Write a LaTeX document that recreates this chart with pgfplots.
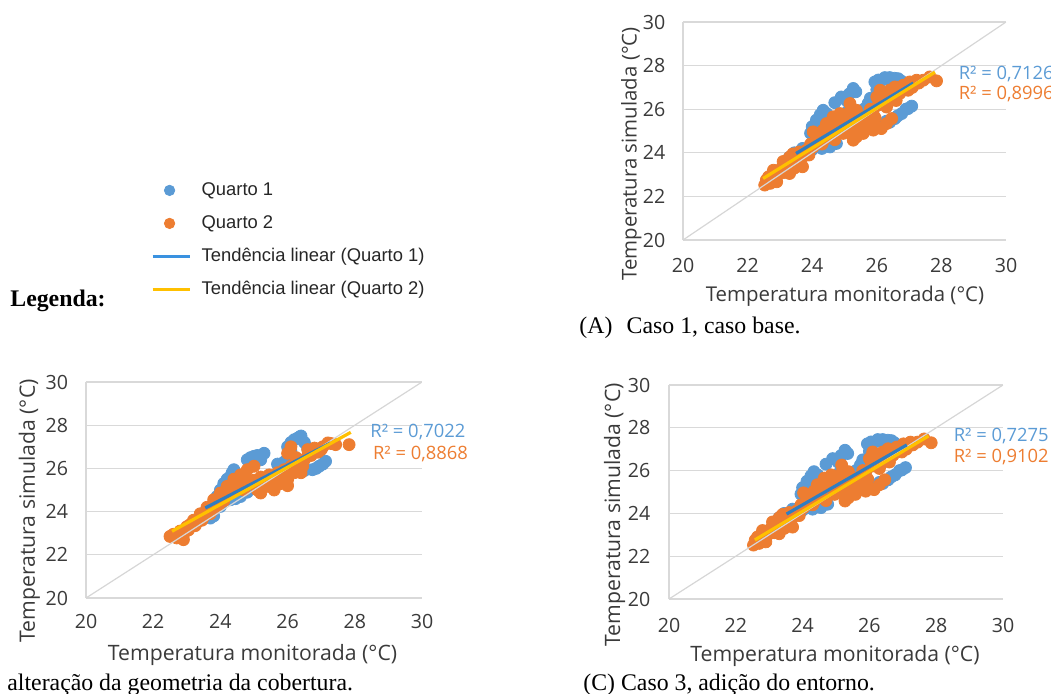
\documentclass[border=0pt]{standalone}
\usepackage{fontspec}
\setmainfont{Liberation Serif}
\newfontfamily\chartfont{Open Sans}
\newfontfamily\legfont{Liberation Sans}
\usepackage{pgfplots}
\usepackage{pgfplotstable}
\pgfplotsset{compat=1.18}
\definecolor{qblue}{HTML}{5B9BD5}
\definecolor{qorange}{HTML}{ED7D31}
\definecolor{tblue}{HTML}{2F7DC2}
\definecolor{lblue}{HTML}{3A92E0}
\definecolor{tyellow}{HTML}{FFC000}
\definecolor{gridc}{HTML}{D9D9D9}
\definecolor{diagc}{HTML}{D6D6D6}
\definecolor{txt}{HTML}{3A3A3A}

\pgfplotstableread{
x y
23.3 23.8
23.45 24.0
23.6 23.9
23.7 24.2
23.5 23.6
23.9 24.1
24.1 24.3
24.3 24.4
24.55 24.27
24.75 24.43
24.0 25.2
24.13 25.5
24.25 25.75
24.34 25.95
24.4 25.6
24.9 26.56
25.06 26.4
25.27 26.95
25.1 25.9
25.47 25.2
25.73 26.26
25.6 25.9
25.94 25.43
25.94 27.25
26.05 27.34
26.15 27.33
26.3 27.4
26.4 27.45
26.55 27.42
26.66 27.4
26.87 27.17
26.0 26.9
26.2 25.27
26.4 25.4
26.56 25.57
26.77 25.8
26.97 26.03
27.08 26.14
25.8 26.5
26.1 26.6
24.6 24.9
24.8 25.1
23.2 23.4
25.3 25.5
24.45 25.8
24.2 25.3
23.95 24.9
24.7 26.3
25.15 26.7
25.35 26.8
26.25 27.45
26.75 27.3
26.9 26.0
26.65 25.7
24.3 24.2
24.45 24.35
24.0 24.15
23.6 23.6
23.4 23.5
25.6 26.0
25.9 26.1
26.1 25.3
26.3 25.45
}\Ablue

\pgfplotstableread{
x y
22.53 22.52
22.58 22.75
22.7 22.6
22.9 22.67
22.8 23.2
23.0 23.05
23.2 23.36
23.1 23.6
23.3 23.8
23.3 23.05
23.5 23.5
23.4 23.95
23.7 23.8
23.7 23.36
23.6 24.04
23.82 24.12
24.03 24.27
24.03 24.96
24.13 24.58
24.24 24.8
24.34 25.04
24.44 25.34
24.5 24.73
24.65 25.65
24.75 25.34
24.86 25.8
24.96 25.5
24.96 24.89
25.1 25.2
25.17 26.26
25.22 24.89
25.27 24.58
25.37 24.73
25.37 25.95
25.58 24.89
25.58 25.65
25.79 25.34
25.89 25.95
25.89 25.04
26.0 26.56
26.1 26.87
26.2 26.41
26.3 26.1
26.0 25.2
26.14 25.11
26.3 25.34
26.46 25.57
26.4 26.87
26.56 27.02
26.71 26.72
26.82 27.1
26.97 26.87
27.02 27.25
27.23 27.33
27.44 27.33
27.64 27.48
27.85 27.3
24.3 24.4
24.7 24.6
25.0 25.0
25.6 25.3
26.6 26.4
25.8 26.0
22.65 22.9
22.85 22.95
23.05 23.3
23.15 23.1
23.25 23.55
23.45 23.3
23.55 23.7
23.9 23.9
23.95 24.4
24.35 24.55
24.55 24.95
24.6 25.3
24.85 25.2
25.05 25.55
25.15 25.85
25.3 25.3
25.45 25.55
25.5 25.0
25.7 25.1
25.75 25.7
25.95 25.6
26.05 26.2
26.25 26.7
26.35 26.3
26.5 26.6
26.65 26.95
27.1 27.0
27.3 27.2
}\Aorange

\pgfplotstableread{
x y
23.5 23.9
23.6 24.1
23.8 23.8
24.0 24.24
24.0 25.0
24.1 25.3
24.3 25.63
24.4 25.94
24.3 24.55
24.6 24.7
24.8 24.9
24.8 26.4
25.0 26.56
25.2 26.4
25.3 26.7
25.5 25.5
25.8 25.8
26.0 26.4
26.0 27.0
26.1 27.2
26.2 27.33
26.3 27.4
26.4 27.5
26.5 27.2
26.2 26.0
26.5 25.9
26.74 25.94
26.94 26.1
27.13 26.33
26.6 26.9
23.3 23.5
25.0 25.2
25.7 26.2
24.2 25.5
24.35 25.8
23.9 24.7
24.9 26.5
25.1 26.6
26.35 27.45
26.1 26.8
26.85 26.0
27.05 26.2
24.45 24.6
23.7 23.7
25.9 26.3
26.3 26.1
}\Bblue

\pgfplotstableread{
x y
22.5 22.85
22.7 22.78
22.9 22.93
22.9 22.7
23.0 23.3
23.2 23.6
23.1 23.4
23.4 23.9
23.3 23.5
23.6 24.2
23.5 23.75
23.8 24.55
23.8 24.1
24.0 24.86
24.1 24.5
24.2 25.17
24.4 25.5
24.6 25.7
24.5 25.1
24.8 25.94
24.7 25.0
24.9 25.33
25.0 26.1
25.1 25.0
25.2 24.86
25.2 25.6
25.4 25.17
25.6 25.0
25.7 25.8
25.9 25.94
25.9 25.6
26.0 26.7
26.0 25.48
26.1 27.0
26.2 25.8
26.4 25.8
26.3 26.2
26.5 26.4
26.6 26.87
26.8 26.94
27.0 26.87
27.2 27.18
27.43 27.1
27.83 27.1
26.0 25.2
25.5 25.4
26.7 26.6
22.6 22.95
22.8 23.1
23.05 23.15
23.25 23.35
23.45 23.6
23.7 23.9
23.95 24.3
24.05 24.6
24.3 24.9
24.55 25.35
24.75 25.6
25.0 25.45
25.3 25.3
25.45 25.7
25.55 25.2
25.8 25.3
26.1 26.1
26.25 26.5
26.45 26.1
26.6 26.6
26.9 26.75
27.05 27.0
27.3 27.15
}\Borange

\pgfplotsset{
  sc/.style={
    scale only axis, anchor=south west, clip mode=individual,
    xmin=20,xmax=30,ymin=20,ymax=30,
    xtick={20,22,24,26,28,30}, ytick={20,22,24,26,28,30},
    axis lines*=left,
    x axis line style={draw=none,-},
    y axis line style={draw=gridc, line width=0.6pt,-},
    ymajorgrids, grid style={gridc, line width=0.6pt},
    major tick length=0pt,
    tick style={draw=none},
    /pgf/number format/assume math mode=true,
    ticklabel style={font=\chartfont\fontsize{9.8}{11}\selectfont, text=txt, inner sep=0pt},
    xticklabel style={anchor=center},
    yticklabel style={anchor=east},
  },
  pts/.style={only marks, mark=*, mark size=3pt, mark options={draw=#1, fill=#1}, color=#1},
  diag/.style={diagc, line width=0.6pt},
  tl/.style={#1, line width=1.6pt},
  ll/.style={legend image code/.code={\draw[##1] (0pt,0pt) -- (18.5pt,0pt);}},
}
\newcommand{\labA}{\chartfont\fontsize{10.2}{12}\selectfont\color{txt}}
\newcommand{\labB}{\chartfont\fontsize{10.6}{12}\selectfont\color{txt}}
\newcommand{\rlab}{\chartfont\fontsize{9.2}{11}\selectfont}

\begin{document}
\begin{tikzpicture}
\path[use as bounding box] (0,0) rectangle (525.5pt,346.5pt);

% ---------- Plot A ----------
\begin{axis}[sc, at={(341.5pt,226.5pt)}, width=161.5pt, height=109pt,
  xticklabel style={yshift=-12.5pt}, yticklabel style={xshift=-8.7pt}]
\addplot[pts=qblue] table {\Ablue};
\addplot[pts=qorange] table {\Aorange};
\addplot[diag] coordinates {(20,20) (30,30)};
\addplot[tl=tblue] coordinates {(23.5,23.97) (27.13,27.2)};
\addplot[tl=tyellow] coordinates {(22.48,22.82) (27.8,27.7)};
\end{axis}
\node[anchor=base, inner sep=0pt] at (422.5pt,195.7pt) {\labA Temperatura monitorada (°C)};
\node[anchor=base, rotate=90, inner sep=0pt] at (318.3pt,269.5pt) {\labA Temperatura simulada (°C)};
\node[anchor=base west, inner sep=0pt, text=qblue] at (479.2pt,307pt) {\rlab R² = 0,7126};
\node[anchor=base west, inner sep=0pt, text=qorange] at (479.2pt,297pt) {\rlab R² = 0,8996};
\node[anchor=base west, inner sep=0pt, font=\fontsize{11.9}{14}\selectfont] at (289.5pt,180pt) {(A)\hspace{0.6em}Caso 1, caso base.};

% ---------- Plot B ----------
\begin{axis}[sc, at={(43pt,47.5pt)}, width=168pt, height=108pt,
  xticklabel style={yshift=-11.8pt}, yticklabel style={xshift=-8.8pt}]
\addplot[pts=qblue] table {\Bblue};
\addplot[pts=qorange] table {\Borange};
\addplot[diag] coordinates {(20,20) (30,30)};
\addplot[tl=tblue] coordinates {(23.55,24.17) (27.28,27.18)};
\addplot[tl=tyellow] coordinates {(22.56,23.09) (27.88,27.67)};
\end{axis}
\node[anchor=base, inner sep=0pt] at (126.3pt,16.5pt) {\labB Temperatura monitorada (°C)};
\node[anchor=base, rotate=90, inner sep=0pt] at (17.5pt,91pt) {\labB Temperatura simulada (°C)};
\node[anchor=base west, inner sep=0pt, text=qblue] at (185pt,127.7pt) {\rlab R² = 0,7022};
\node[anchor=base west, inner sep=0pt, text=qorange] at (186.3pt,117pt) {\rlab R² = 0,8868};
\node[anchor=base west, inner sep=0pt, font=\fontsize{11.9}{14}\selectfont] at (3.5pt,1.5pt) {alteração da geometria da cobertura.};

% ---------- Plot C ----------
\begin{axis}[sc, at={(334.5pt,47pt)}, width=167pt, height=107pt,
  xticklabel style={yshift=-13pt}, yticklabel style={xshift=-9.2pt}]
\addplot[pts=qblue] table {\Ablue};
\addplot[pts=qorange] table {\Aorange};
\addplot[diag] coordinates {(20,20) (30,30)};
\addplot[tl=tblue] coordinates {(23.52,23.97) (27.12,27.2)};
\addplot[tl=tyellow] coordinates {(22.57,22.76) (27.77,27.62)};
\end{axis}
\node[anchor=base, inner sep=0pt] at (417.5pt,15.7pt) {\labB Temperatura monitorada (°C)};
\node[anchor=base, rotate=90, inner sep=0pt] at (310pt,89pt) {\labB Temperatura simulada (°C)};
\node[anchor=base west, inner sep=0pt, text=qblue] at (476.7pt,125.7pt) {\rlab R² = 0,7275};
\node[anchor=base west, inner sep=0pt, text=qorange] at (476.7pt,115.3pt) {\rlab R² = 0,9102};
\node[anchor=base west, inner sep=0pt, font=\fontsize{11.9}{14}\selectfont] at (291.5pt,1.5pt) {(C) Caso 3, adição do entorno.};

% ---------- Legend ----------
\begin{axis}[at={(75.5pt,256pt)}, anchor=north west, scale only axis, width=20pt, height=20pt,
  hide axis, xmin=0, xmax=1, ymin=0, ymax=1,
  legend cell align=left,
  legend style={at={(0,1)}, anchor=north west, draw=none, fill=none, inner sep=0pt,
    font=\legfont\fontsize{9.2}{11}\selectfont, text=black!85, row sep=7.5pt, column sep=5.5pt,
    nodes={inner sep=0pt, text height=7pt, text depth=2pt}}]
\addlegendimage{only marks, mark=*, mark size=2.6pt, qblue}
\addlegendentry{Quarto 1}
\addlegendimage{only marks, mark=*, mark size=2.6pt, qorange}
\addlegendentry{Quarto 2}
\addlegendimage{draw=lblue, line width=1.1pt, ll}
\addlegendentry{Tendência linear (Quarto 1)}
\addlegendimage{draw=tyellow, line width=1.1pt, ll}
\addlegendentry{Tendência linear (Quarto 2)}
\end{axis}
\node[anchor=base west, inner sep=0pt, font=\bfseries\fontsize{11.9}{14}\selectfont] at (5pt,193.2pt) {Legenda:};
\end{tikzpicture}
\end{document}
